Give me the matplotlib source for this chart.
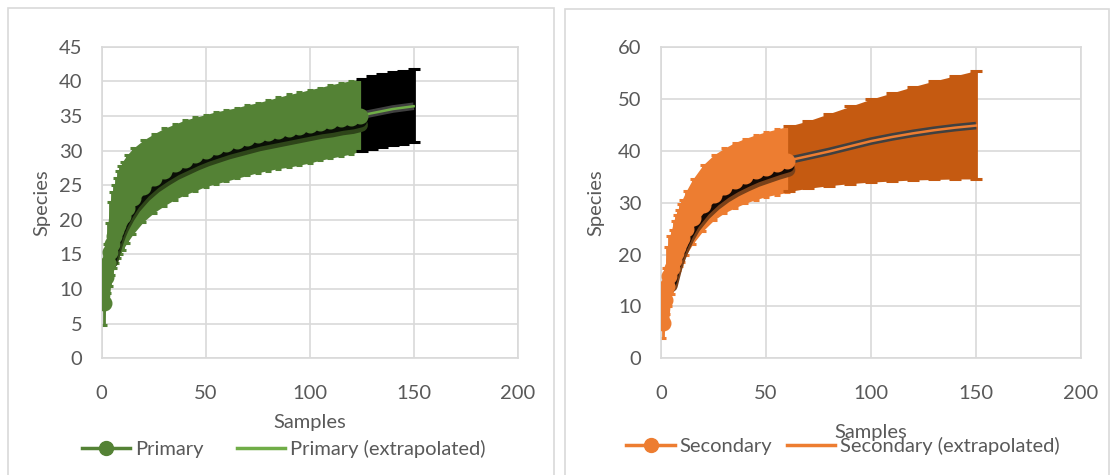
import matplotlib
matplotlib.use("Agg")
import matplotlib.pyplot as plt
from matplotlib.lines import Line2D
from matplotlib.patches import Rectangle
from matplotlib.transforms import ScaledTranslation

plt.rcParams['font.family'] = ['Lato', 'DejaVu Sans']

# Primary (observed)
prim_x = [1, 2, 3, 4, 5, 6, 7, 8, 9, 10, 12, 15, 20, 25, 30, 35, 40, 45, 50, 55,
          60, 65, 70, 75, 80, 85, 90, 95, 100, 105, 110, 115, 120, 124]
prim_mean = [8.0, 11.7, 13.8, 15.3, 16.5, 17.6, 18.5, 19.3, 20.0, 20.6, 21.7, 23.1,
             24.8, 26.1, 27.1, 28.0, 28.7, 29.4, 30.0, 30.5, 31.0, 31.4, 31.8, 32.2,
             32.5, 32.8, 33.1, 33.4, 33.7, 34.0, 34.2, 34.5, 34.7, 35.0]
prim_upper = [11.2, 16.5, 19.5, 22.5, 24.0, 25.0, 26.0, 27.0, 27.8, 28.4, 29.3, 30.3,
              31.5, 32.4, 33.2, 33.8, 34.4, 34.8, 35.2, 35.6, 35.9, 36.2, 36.6, 36.9,
              37.3, 37.7, 38.1, 38.4, 38.8, 39.1, 39.5, 39.8, 40.1, 40.3]
prim_lower = [4.8, 7.5, 9.4, 10.5, 12.0, 13.0, 13.8, 14.5, 15.1, 15.6, 16.6, 17.9,
              19.7, 21.0, 22.0, 22.9, 23.6, 24.2, 24.8, 25.2, 25.6, 26.0, 26.4, 26.8,
              27.1, 27.4, 27.6, 27.9, 28.2, 28.6, 28.9, 29.2, 29.5, 29.9]

# Primary (extrapolated)
prim_ext_x = [125, 130, 135, 140, 145, 150]
prim_ext_mean = [35.1, 35.4, 35.7, 36.0, 36.2, 36.4]
prim_ext_upper = [40.4, 40.7, 41.0, 41.3, 41.5, 41.8]
prim_ext_lower = [30.0, 30.2, 30.5, 30.8, 31.0, 31.2]

# Secondary (observed)
sec_x = [1, 2, 3, 4, 5, 6, 7, 8, 9, 10, 12, 15, 20, 25, 30, 35, 40, 45, 50, 55, 60]
sec_mean = [6.9, 11.3, 13.9, 15.8, 17.4, 19.0, 20.3, 21.4, 22.4, 23.3, 25.0, 27.1,
            29.6, 31.5, 33.0, 34.2, 35.2, 36.1, 36.8, 37.5, 38.1]
sec_upper = [10.0, 17.5, 21.5, 23.5, 24.8, 26.5, 27.7, 28.7, 29.7, 30.6, 32.3, 34.5,
             37.3, 39.2, 40.5, 41.6, 42.4, 43.1, 43.7, 44.2, 44.7]
sec_lower = [3.9, 6.5, 8.5, 10.0, 12.5, 14.5, 16.0, 17.0, 17.8, 18.6, 20.0, 22.0,
             24.6, 26.6, 28.0, 29.0, 29.9, 30.6, 31.2, 31.6, 32.0]

# Secondary (extrapolated)
sec_ext_x = [61, 70, 80, 90, 100, 110, 120, 130, 140, 150]
sec_ext_mean = [38.2, 39.0, 39.9, 40.9, 41.9, 42.7, 43.4, 44.0, 44.5, 44.9]
sec_ext_upper = [44.8, 45.8, 47.2, 48.6, 50.0, 51.2, 52.4, 53.5, 54.5, 55.5]
sec_ext_lower = [32.2, 32.8, 33.3, 33.7, 34.0, 34.2, 34.4, 34.5, 34.6, 34.6]

GRID = '#D9D9D9'
TXT = '#595959'
FS = 14.5


def band(ax, x, mean, lower, upper, color, z, cap):
    ax.fill_between(x, lower, upper, color=color, lw=0, zorder=z)
    yerr = [[m - l for m, l in zip(mean, lower)], [u - m for m, u in zip(mean, upper)]]
    ax.errorbar(x, mean, yerr=yerr, fmt='none', ecolor=color, elinewidth=2,
                capsize=cap, capthick=2.2, zorder=z)


def observed(ax, x, mean, color, shades):
    # stacked offset layers fake the soft drop shadow under the marker tube
    for (dy, lw, c) in [(-6.5, 10, shades[0]), (-4, 8.5, shades[1])]:
        off = ax.transData + ScaledTranslation(1 / 72, dy / 72, fig.dpi_scale_trans)
        ax.plot(x[3:], mean[3:], color=c, lw=lw, transform=off, zorder=5.8,
                solid_capstyle='round', solid_joinstyle='round')
    ax.plot(x, mean, color=color, lw=8.5, zorder=6, solid_capstyle='round',
            solid_joinstyle='round')
    ax.plot(x, mean, ls='none', marker='o', ms=10.5, color=color, zorder=7)


def extrap(ax, x, mean, color):
    ax.plot(x, mean, color='#404040', lw=5.5, zorder=5, solid_capstyle='butt')
    ax.plot(x, mean, color=color, lw=1.8, zorder=5.5)


def style(ax, ymax, ystep, xpad, ypad):
    ax.set_xlim(0, 200)
    ax.set_ylim(0, ymax)
    ax.set_xticks(range(0, 201, 50))
    ax.set_yticks(range(0, ymax + 1, ystep))
    ax.grid(True, color=GRID, lw=1.2)
    ax.set_axisbelow(True)
    for s in ax.spines.values():
        s.set_color(GRID)
        s.set_linewidth(1.2)
    ax.tick_params(length=0, colors=TXT, labelsize=FS)
    ax.tick_params(axis='x', pad=19)
    ax.tick_params(axis='y', pad=14)
    ax.set_xlabel('Samples', color=TXT, fontsize=FS, labelpad=xpad)
    ax.set_ylabel('Species', color=TXT, fontsize=FS, labelpad=ypad)


fig = plt.figure(figsize=(11.14, 4.75), dpi=100)

fig.patches.append(Rectangle((8 / 1114, -0.02), 546 / 1114, 1.0 - 8 / 475 + 0.02,
                             transform=fig.transFigure, fill=False, ec=GRID, lw=1.2))
fig.patches.append(Rectangle((565 / 1114, -0.02), 544 / 1114, 1.0 - 9 / 475 + 0.02,
                             transform=fig.transFigure, fill=False, ec=GRID, lw=1.2))

ax1 = fig.add_axes([0.0913, 0.2457, 0.3734, 0.656])
ax2 = fig.add_axes([0.5934, 0.2457, 0.3770, 0.6547])

band(ax1, prim_x, prim_mean, prim_lower, prim_upper, '#548235', 2, 2.5)
band(ax1, prim_ext_x, prim_ext_mean, prim_ext_lower, prim_ext_upper, '#000000', 3, 4)
extrap(ax1, [prim_x[-1]] + prim_ext_x, [prim_mean[-1]] + prim_ext_mean, '#70AD47')
observed(ax1, prim_x, prim_mean, '#548235', ('#2E4519', '#0A0F06'))
style(ax1, 45, 5, 9, 6)

band(ax2, sec_x, sec_mean, sec_lower, sec_upper, '#ED7D31', 2, 2.5)
band(ax2, sec_ext_x, sec_ext_mean, sec_ext_lower, sec_ext_upper, '#C55A11', 3, 4)
extrap(ax2, [sec_x[-1]] + sec_ext_x, [sec_mean[-1]] + sec_ext_mean, '#ED7D31')
observed(ax2, sec_x, sec_mean, '#ED7D31', ('#7A4119', '#140A05'))
style(ax2, 60, 10, 16, 10)

h1 = [Line2D([], [], color='#548235', lw=2.5, marker='o', ms=10),
      Line2D([], [], color='#70AD47', lw=2.5)]
ax1.legend(h1, ['Primary', 'Primary (extrapolated)'], loc='center',
           bbox_to_anchor=(284 / 1114, 1 - 449 / 475), bbox_transform=fig.transFigure,
           ncol=2, frameon=False, fontsize=FS, labelcolor=TXT, handlelength=2.4,
           handletextpad=0.25, columnspacing=1.65, borderpad=0)

h2 = [Line2D([], [], color='#ED7D31', lw=2.5, marker='o', ms=10),
      Line2D([], [], color='#ED7D31', lw=2.5)]
ax2.legend(h2, ['Secondary', 'Secondary (extrapolated)'], loc='center',
           bbox_to_anchor=(843 / 1114, 1 - 446 / 475), bbox_transform=fig.transFigure,
           ncol=2, frameon=False, fontsize=FS, labelcolor=TXT, handlelength=2.4,
           handletextpad=0.25, columnspacing=0.7, borderpad=0)

fig.savefig('out.png', dpi=100)
